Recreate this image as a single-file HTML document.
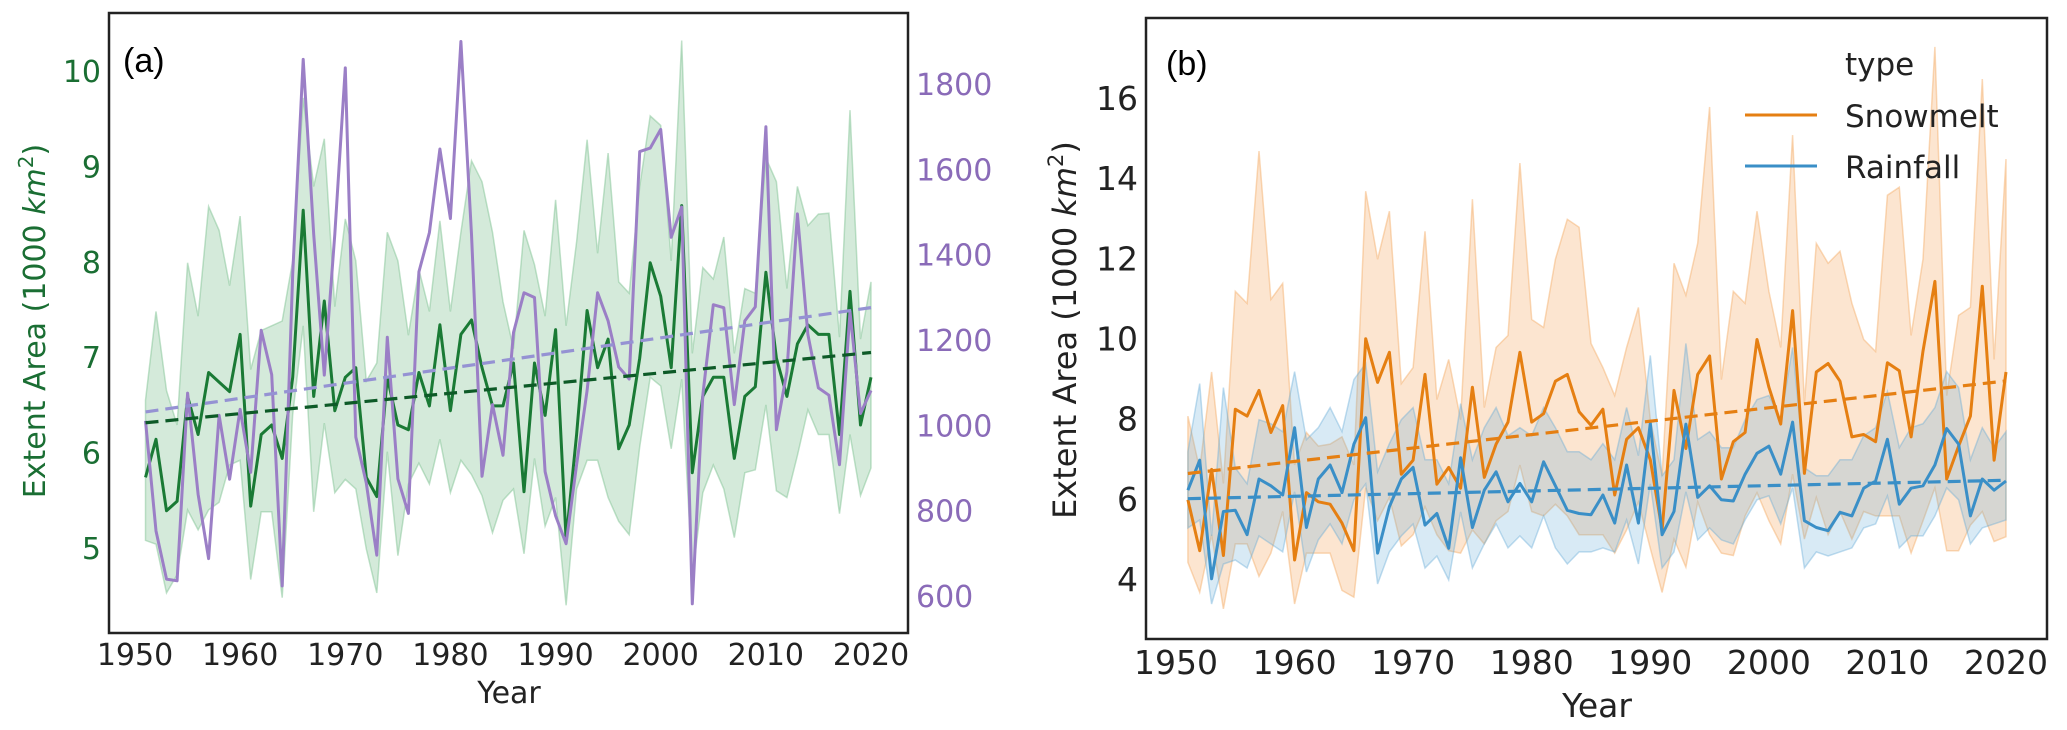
<!DOCTYPE html>
<html><head><meta charset="utf-8">
<style>
html,body{margin:0;padding:0;background:#fff;}
svg{display:block;}
text{font-family:"DejaVu Sans","Liberation Sans",sans-serif;}
</style></head>
<body>
<svg id="fig" width="2067" height="730" viewBox="0 0 2067 730" xmlns="http://www.w3.org/2000/svg">
  <g id="panelA"></g>
  <g id="panelB"></g>
</svg>
<script>
const years = [];
for (let y = 1951; y <= 2020; y++) years.push(y);

const greenMean = [5.75,6.15,5.4,5.5,6.6,6.2,6.85,6.75,6.65,7.25,5.45,6.2,6.3,5.95,6.8,8.55,6.6,7.6,6.45,6.8,6.9,5.75,5.55,6.8,6.3,6.25,6.85,6.5,7.35,6.45,7.25,7.4,6.9,6.5,6.5,6.95,5.6,6.95,6.4,7.3,5.1,6.2,7.5,6.9,7.2,6.05,6.3,7.0,8.0,7.65,6.9,8.6,5.8,6.6,6.8,6.8,5.95,6.6,6.7,7.9,7.0,6.6,7.15,7.35,7.25,7.25,6.2,7.7,6.3,6.8];
const greenUpper = [6.56,7.49,6.66,6.3,8.0,7.44,8.59,8.34,7.76,8.49,6.88,7.29,7.34,7.39,8.02,9.73,8.8,9.3,7.54,8.46,8.02,6.76,6.95,8.32,8.02,7.24,7.93,7.49,8.44,7.49,8.32,9.07,8.85,8.32,7.59,7.1,8.34,7.98,7.44,8.66,7.34,8.22,9.29,8.1,9.15,7.8,7.68,8.8,9.54,9.44,8.02,10.33,7.05,7.95,7.83,8.27,7.05,7.73,7.68,9.1,8.85,7.73,8.8,8.39,8.51,8.52,7.22,9.6,7.2,7.8];
const greenLower = [5.09,5.05,4.54,4.73,5.41,5.2,5.41,5.49,5.88,5.93,4.68,5.39,5.39,4.49,6.41,7.34,5.39,6.32,5.59,5.73,5.63,5.0,4.54,6.02,4.93,5.68,5.9,5.68,6.15,5.59,5.93,5.78,5.56,5.17,5.51,5.63,4.95,5.95,5.24,5.54,4.41,5.63,5.93,5.93,5.54,5.29,5.15,6.07,6.8,6.71,6.05,6.78,4.71,5.59,5.88,5.63,5.12,5.8,5.83,6.51,5.61,5.54,5.98,6.46,6.2,6.2,5.37,6.2,5.56,5.85];
const purpleCount = [1013,755,642,638,1078,841,690,1026,876,1040,892,1225,1121,626,1357,1860,1450,1120,1450,1840,975,867,698,1209,877,796,1362,1454,1650,1487,1902,1450,883,1051,932,1220,1313,1302,894,790,725,910,1084,1313,1247,1139,1111,1644,1652,1696,1443,1514,584,1073,1285,1278,1051,1247,1280,1702,992,1128,1498,1215,1090,1073,910,1269,1030,1084];

const snowMean = [6.0,4.73,6.76,4.61,8.26,8.09,8.73,7.68,8.35,4.5,6.18,5.95,5.89,5.42,4.73,10.02,8.93,9.68,6.64,6.99,9.13,6.39,6.81,6.29,8.81,6.56,7.39,7.94,9.68,7.94,8.15,8.96,9.13,8.2,7.86,8.26,6.12,7.51,7.8,7.0,5.25,8.73,7.28,9.13,9.59,6.52,7.45,7.68,10.0,8.81,7.89,10.72,6.66,9.19,9.4,8.96,7.57,7.63,7.45,9.42,9.22,7.57,9.71,11.45,6.52,7.34,8.09,11.33,6.99,9.19];
const snowUpper = [8.09,6.76,9.19,6.41,11.2,10.9,14.7,11.0,11.4,6.87,7.68,7.34,7.39,7.57,6.87,13.7,12.0,13.2,8.9,9.3,12.7,8.5,9.5,8.0,13.5,8.3,9.8,10.1,14.4,10.5,10.3,12.0,13.0,12.8,9.9,9.3,8.6,9.8,10.8,8.0,6.6,11.9,11.1,12.4,15.8,9.0,11.2,10.9,13.2,11.2,9.8,15.1,8.4,12.4,11.9,12.2,10.9,10.0,9.7,13.6,13.8,10.1,12.0,17.3,8.6,10.6,10.8,16.5,9.5,14.5];
const snowLower = [4.44,3.69,5.13,3.28,4.9,4.9,4.09,4.67,5.71,3.4,4.67,4.67,4.67,3.74,3.57,6.3,5.48,6.06,4.85,5.13,5.83,5.13,4.73,4.67,5.25,4.9,5.48,5.71,6.87,5.71,5.6,5.89,5.6,5.13,5.13,5.13,4.67,5.25,5.95,4.79,3.69,5.02,4.32,5.95,5.13,4.67,4.61,5.6,6.18,5.48,4.9,6.64,5.02,6.06,5.13,5.71,5.02,5.71,5.6,5.6,5.6,4.67,5.48,6.3,4.73,4.73,5.37,5.71,4.96,5.08];
const rainMean = [6.24,6.99,4.03,5.71,5.74,5.13,6.52,6.35,6.12,7.8,5.31,6.52,6.87,6.18,7.39,8.05,4.67,5.83,6.52,6.81,5.37,5.66,4.79,7.05,5.31,6.24,6.7,5.95,6.41,5.95,6.95,6.35,5.74,5.66,5.63,6.12,5.42,6.87,5.42,7.91,5.13,5.71,7.89,6.06,6.35,6.0,5.97,6.64,7.16,7.34,6.64,7.94,5.48,5.31,5.23,5.69,5.6,6.29,6.47,7.51,5.89,6.29,6.35,6.87,7.78,7.39,5.6,6.52,6.24,6.47];
const rainUpper = [7.2,8.9,5.1,8.8,6.8,6.4,8.0,7.9,7.7,9.2,7.5,7.8,8.3,7.7,9.0,9.4,6.7,7.4,8.0,8.3,7.0,7.0,6.4,8.4,7.0,7.8,8.3,7.6,7.8,7.6,8.3,7.8,7.2,7.2,7.0,7.4,7.0,8.3,7.1,9.6,6.6,7.0,9.9,7.5,7.7,7.3,7.3,8.0,8.5,8.6,8.0,9.8,6.8,6.6,6.6,7.0,7.0,7.6,7.8,8.7,7.3,7.8,7.9,8.3,9.2,8.8,7.0,7.8,7.3,7.7];
const rainLower = [5.3,5.5,3.4,4.4,4.5,4.3,5.1,4.9,4.7,6.2,4.2,5.0,5.4,4.9,6.0,6.4,3.9,4.7,5.1,5.4,4.3,4.6,4.0,5.7,4.3,4.9,5.4,4.8,5.1,4.8,5.6,4.8,4.4,4.7,4.7,4.8,4.7,5.5,4.4,6.4,4.3,4.7,6.2,5.0,5.3,5.0,4.9,5.5,6.0,6.1,5.4,6.3,4.3,4.7,4.6,4.7,4.8,5.3,5.4,6.1,4.8,5.1,5.1,5.6,6.3,6.0,4.9,5.3,5.4,5.5];

const xTicks = [1950,1960,1970,1980,1990,2000,2010,2020];
const aLeftTicks = [5,6,7,8,9,10];
const aRightTicks = [600,800,1000,1200,1400,1600,1800];
const bTicks = [4,6,8,10,12,14,16];

const NS = 'http://www.w3.org/2000/svg';
function mk(tag, attrs, parent) {
  const e = document.createElementNS(NS, tag);
  for (const k in attrs) e.setAttribute(k, attrs[k]);
  parent.appendChild(e);
  return e;
}
function lin(d0, d1, r0, r1) { return v => r0 + (v - d0) * (r1 - r0) / (d1 - d0); }
function linePath(xs, ys, sx, sy) {
  return xs.map((x, i) => (i ? 'L' : 'M') + sx(x).toFixed(1) + ',' + sy(ys[i]).toFixed(1)).join(' ');
}
function bandPath(xs, lo, hi, sx, sy) {
  let d = xs.map((x, i) => (i ? 'L' : 'M') + sx(x).toFixed(1) + ',' + sy(hi[i]).toFixed(1)).join(' ');
  for (let i = xs.length - 1; i >= 0; i--) d += ' L' + sx(xs[i]).toFixed(1) + ',' + sy(lo[i]).toFixed(1);
  return d + ' Z';
}
function regress(xs, ys) {
  const n = xs.length; let mx = 0, my = 0;
  for (let i = 0; i < n; i++) { mx += xs[i]; my += ys[i]; }
  mx /= n; my /= n;
  let num = 0, den = 0;
  for (let i = 0; i < n; i++) { num += (xs[i] - mx) * (ys[i] - my); den += (xs[i] - mx) ** 2; }
  const b = num / den;
  return x => my + b * (x - mx);
}
function txt(parent, x, y, s, attrs) {
  const t = mk('text', Object.assign({x: x, y: y}, attrs || {}), parent);
  t.textContent = s;
  return t;
}

/* ---------- Panel A ---------- */
(function () {
  const g = document.getElementById('panelA');
  const L = 109, R = 908, T = 13, B = 633;
  const sx = lin(1950, 2020, 135, 871);
  const sy = lin(5, 10, 549, 72);
  const sy2 = lin(600, 1800, 597, 85);

  const band = mk('path', {d: bandPath(years, greenLower, greenUpper, sx, sy), fill: 'rgba(120,190,140,0.32)', stroke: 'rgba(120,190,140,0.45)', 'stroke-width': 1.5}, g);
  
  

  const gl = mk('path', {d: linePath(years, greenMean, sx, sy), fill: 'none', stroke: '#1a7a35', 'stroke-width': 3, 'stroke-linejoin': 'round'}, g);
  
  

  const pl = mk('path', {d: linePath(years, purpleCount, sx, sy2), fill: 'none', stroke: '#9b7fc6', 'stroke-width': 3, 'stroke-linejoin': 'round'}, g);
  
  

  const gt = regress(years, greenMean), pt = regress(years, purpleCount);
  const x0 = years[0], x1 = years[years.length - 1];
  const ptl = mk('line', {x1: sx(x0), y1: sy2(pt(x0)), x2: sx(x1), y2: sy2(pt(x1)), stroke: '#9592d3', 'stroke-width': 3.2, 'stroke-dasharray': '13,7'}, g);
  
  
  const gtl = mk('line', {x1: sx(x0), y1: sy(gt(x0)), x2: sx(x1), y2: sy(gt(x1)), stroke: '#0d5a27', 'stroke-width': 3.2, 'stroke-dasharray': '13,7'}, g);
  
  

  const fr = mk('rect', {x: L, y: T, width: R - L, height: B - T, fill: 'none', stroke: '#222', 'stroke-width': 2.5}, g);
  
  

  xTicks.forEach(v => {
    const t = txt(g, sx(v), 665, String(v), {'font-size': 30, 'text-anchor': 'middle', fill: '#222'});
    
    
  });
  aLeftTicks.forEach(v => {
    const t = txt(g, 101, sy(v) + 10, String(v), {'font-size': 30, 'text-anchor': 'end', fill: '#1a6e33'});
    
    
  });
  aRightTicks.forEach(v => {
    const t = txt(g, 916, sy2(v) + 10, String(v), {'font-size': 30, 'text-anchor': 'start', fill: '#8a6bb8'});
    
    
  });
})();

/* ---------- Panel B ---------- */
(function () {
  const g = document.getElementById('panelB');
  const L = 1146, R = 2047, T = 18, B = 639;
  const sx = lin(1950, 2020, 1176, 2006);
  const sy = lin(4, 16, 580, 99);

  const ob = mk('path', {d: bandPath(years, snowLower, snowUpper, sx, sy), fill: 'rgba(245,170,100,0.30)', stroke: 'rgba(245,170,100,0.45)', 'stroke-width': 1.5}, g);
  
  
  const bb = mk('path', {d: bandPath(years, rainLower, rainUpper, sx, sy), fill: 'rgba(100,170,215,0.25)', stroke: 'rgba(100,170,215,0.4)', 'stroke-width': 1.5}, g);
  
  

  const ol = mk('path', {d: linePath(years, snowMean, sx, sy), fill: 'none', stroke: '#e57f12', 'stroke-width': 3, 'stroke-linejoin': 'round'}, g);
  
  
  const bl = mk('path', {d: linePath(years, rainMean, sx, sy), fill: 'none', stroke: '#3a8fc7', 'stroke-width': 3, 'stroke-linejoin': 'round'}, g);
  
  

  const ot = regress(years, snowMean), rt = regress(years, rainMean);
  const x0 = years[0], x1 = years[years.length - 1];
  const otl = mk('line', {x1: sx(x0), y1: sy(ot(x0)), x2: sx(x1), y2: sy(ot(x1)), stroke: '#e57f12', 'stroke-width': 3.2, 'stroke-dasharray': '13,7'}, g);
  
  
  const rtl = mk('line', {x1: sx(x0), y1: sy(rt(x0)), x2: sx(x1), y2: sy(rt(x1)), stroke: '#3a8fc7', 'stroke-width': 3.2, 'stroke-dasharray': '13,7'}, g);
  
  

  const fr = mk('rect', {x: L, y: T, width: R - L, height: B - T, fill: 'none', stroke: '#222', 'stroke-width': 2.5}, g);
  
  

  xTicks.forEach(v => {
    const t = txt(g, sx(v), 674, String(v), {'font-size': 33, 'text-anchor': 'middle', fill: '#222'});
    
    
  });
  bTicks.forEach(v => {
    const t = txt(g, 1138, sy(v) + 11, String(v), {'font-size': 33, 'text-anchor': 'end', fill: '#222'});
    
    
  });
})();
</script>

<script>
(function () {
  const NS = 'http://www.w3.org/2000/svg';
  const fig = document.getElementById('fig');
  const add = (markup) => { const g = document.createElementNS(NS, 'g'); g.innerHTML = markup; fig.appendChild(g); };
  add(`
  <text x="123" y="72" font-size="34" style="font-family:'Liberation Sans',sans-serif" fill="#000">(a)</text>
  <text x="1166" y="75" font-size="34" style="font-family:'Liberation Sans',sans-serif" fill="#000">(b)</text>
  <text x="509" y="703" font-size="30" text-anchor="middle" fill="#222">Year</text>
  <text x="1597" y="717" font-size="33" text-anchor="middle" fill="#222">Year</text>
  <text transform="translate(45,321) rotate(-90)" font-size="30" text-anchor="middle" fill="#1a6e33">Extent Area (1000 <tspan font-style="italic">km</tspan><tspan font-size="20" dy="-12">2</tspan><tspan dy="12">)</tspan></text>
  <text transform="translate(1076,330) rotate(-90)" font-size="32" text-anchor="middle" fill="#222">Extent Area (1000 <tspan font-style="italic">km</tspan><tspan font-size="21" dy="-13">2</tspan><tspan dy="13">)</tspan></text>
  <g>
    <text x="1845" y="75" font-size="31" fill="#222">type</text>
    <line x1="1745" y1="115" x2="1817" y2="115" stroke="#e57f12" stroke-width="3"/>
    <text x="1845" y="127" font-size="31" fill="#222">Snowmelt</text>
    <line x1="1745" y1="166" x2="1817" y2="166" stroke="#3a8fc7" stroke-width="3"/>
    <text x="1845" y="178" font-size="31" fill="#222">Rainfall</text>
  </g>`);
})();
</script>
</body></html>
